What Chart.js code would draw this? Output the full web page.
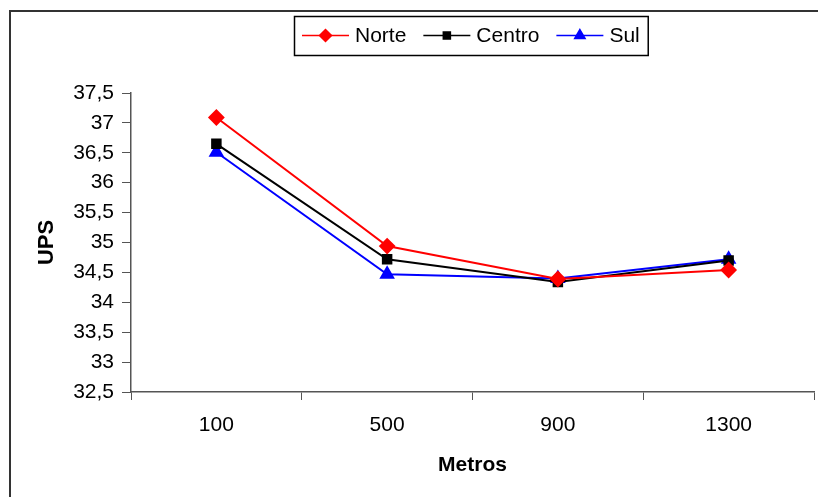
<!DOCTYPE html>
<html>
<head>
<meta charset="utf-8">
<script src="https://cdn.jsdelivr.net/npm/chart.js@4/dist/chart.umd.min.js"></script>
<style>
  html, body { margin: 0; padding: 0; background: #fff; overflow: hidden; }
  #wrap { width: 818px; height: 497px; }
</style>
</head>
<body>
<div id="wrap"><canvas id="ups-chart"></canvas></div>
<script>
// categorias (metros) e valores
const metros = ["100", "500", "900", "1300"];
const norte = [37.09, 34.94, 34.39, 34.54];
const centro = [36.65, 34.72, 34.34, 34.70];
const sul = [36.51, 34.47, 34.40, 34.72];
const yTicks = { min: 32.5, max: 37.5, step: 0.5 };

const FONT = "'Liberation Sans', Arial, sans-serif";

// moldura externa + legenda com linha e marcador
const framePlugin = {
    id: "frame",
    afterDraw(chart) {
        const ctx = chart.ctx;
        ctx.save();
        ctx.strokeStyle = "#333";
        ctx.lineWidth = 2;
        ctx.strokeRect(10, 11, 900, 600);

        ctx.font = "21px " + FONT;
        ctx.textBaseline = "middle";
        const lineW = 47, gap = 6, itemGap = 17, pad = 8;
        const sets = chart.data.datasets;
        let total = pad * 2 - itemGap;
        sets.forEach((ds) => {
            total += lineW + gap + ctx.measureText(ds.label).width + itemGap;
        });
        const boxX = Math.round(471 - total / 2), boxY = 16, boxH = 39;
        ctx.lineWidth = 1.5;
        ctx.strokeStyle = "#000";
        ctx.strokeRect(boxX + 0.5, boxY + 0.5, total, boxH);
        const cy = boxY + boxH / 2;
        let x = boxX + pad;
        sets.forEach((ds) => {
            ctx.strokeStyle = ds.borderColor;
            ctx.fillStyle = ds.borderColor;
            ctx.lineWidth = 1.5;
            ctx.beginPath();
            ctx.moveTo(x, cy);
            ctx.lineTo(x + lineW, cy);
            ctx.stroke();
            Chart.helpers.drawPoint(ctx, {
                pointStyle: ds.pointStyle,
                radius: ds.pointRadius - 1,
                rotation: 0,
                borderWidth: 1
            }, x + lineW / 2, cy);
            ctx.fillStyle = "#000";
            ctx.textAlign = "left";
            ctx.fillText(ds.label, x + lineW + gap, cy + 1);
            x += lineW + gap + ctx.measureText(ds.label).width + itemGap;
        });
        ctx.restore();
    }
};

function serie(label, data, color, style, radius) {
    return {
        label: label,
        data: data,
        borderColor: color,
        backgroundColor: color,
        pointBackgroundColor: color,
        pointBorderColor: color,
        pointStyle: style,
        pointRadius: radius,
        borderWidth: 2,
        tension: 0
    };
}

Chart.defaults.font.family = FONT;
Chart.defaults.color = "#000";

new Chart(document.getElementById("ups-chart"), {
    type: "line",
    data: {
        labels: metros,
        datasets: [
            serie("Norte", norte, "#ff0000", "rectRot", 7),
            serie("Centro", centro, "#000000", "rect", 6),
            serie("Sul", sul, "#0000ff", "triangle", 7)
        ]
    },
    options: {
        responsive: true,
        maintainAspectRatio: false,
        animation: false,
        devicePixelRatio: 1,
        layout: {
            autoPadding: false,
            padding: { top: 93, right: 4, left: 0, bottom: 0 }
        },
        plugins: {
            legend: { display: false },
            tooltip: { enabled: false }
        },
        scales: {
            x: {
                offset: true,
                afterFit: (s) => {
                    s.height = 105;
                    s.paddingLeft = 0;
                    s.paddingRight = 0;
                },
                grid: {
                    offset: true,
                    drawOnChartArea: false,
                    drawTicks: true,
                    tickLength: 8,
                    color: "#555"
                },
                border: { display: true, color: "#555", width: 1.5 },
                ticks: { font: { size: 21 }, padding: 13, color: "#000" },
                title: {
                    display: true,
                    text: "Metros",
                    font: { size: 21, weight: "bold" },
                    padding: { top: 0, bottom: 19 }
                }
            },
            y: {
                min: yTicks.min,
                max: yTicks.max,
                afterFit: (s) => { s.width = 131; },
                grid: {
                    drawOnChartArea: false,
                    drawTicks: true,
                    tickLength: 9,
                    color: "#555"
                },
                border: { display: true, color: "#555", width: 1.5 },
                ticks: {
                    stepSize: yTicks.step,
                    font: { size: 21 },
                    padding: 8,
                    color: "#000",
                    callback: (v) => String(v).replace(".", ",")
                },
                title: {
                    display: true,
                    text: "UPS",
                    font: { size: 22, weight: "bold" },
                    padding: { top: 34, bottom: 0 }
                }
            }
        }
    },
    plugins: [framePlugin]
});
</script>
</body>
</html>
